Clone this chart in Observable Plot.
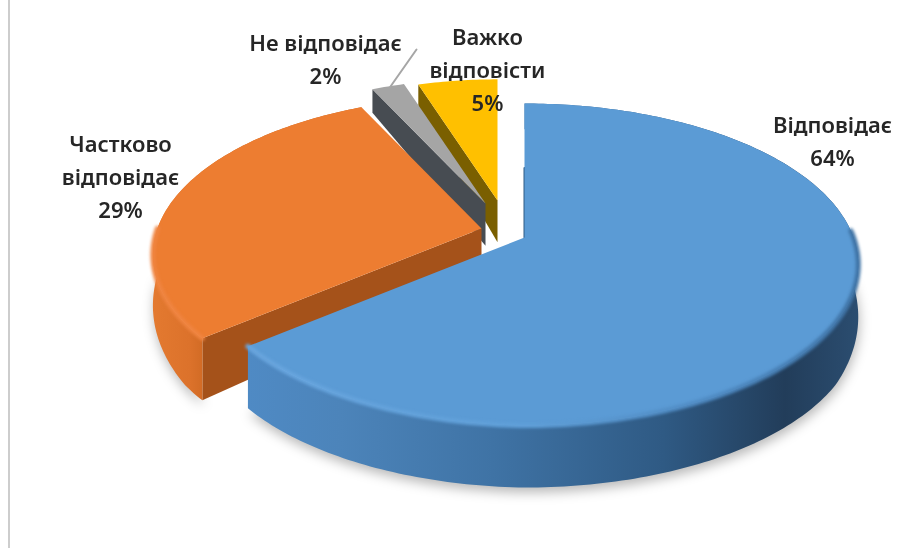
<!DOCTYPE html>
<html lang="uk">
<head>
<meta charset="utf-8">
<script src="https://cdn.jsdelivr.net/npm/d3@7"></script>
<script src="https://cdn.jsdelivr.net/npm/@observablehq/plot@0.6"></script>
<style>
html,body{margin:0;padding:0;background:#fff;}
svg{display:block;}
</style>
</head>
<body>
<div id="chart"></div>
<script>
// ---- data ----
const categories = ["Відповідає", "Частково\nвідповідає", "Не відповідає", "Важко\nвідповісти"];
const shares = [64, 29, 2, 5];

// ---- layout of the tilted pie (projection, not data) ----
const W = 898, H = 548;
const tilt = 0.168, rx = 329, ry = 156.5;
const apexX = [524, 481, 485, 497];
const apexY = [237, 228, 203, 200];
const reach = [1, 0.985, 0.92, 0.89];
const squeeze = [0.03, 0, 0, 0];
const labelX = [832, 120, 325, 487];
const labelY = [138, 174, 56, 67];
const leaderX = [390, 416];
const leaderY = [86, 49];
const topColor = ["#5b9bd5", "#ed7d31", "#a5a5a5", "#ffc000"];
const cutColor = ["#2f5a84", "#a5521a", "#474c52", "#7a5f00"];
const arcColor = ["url(#blueWall)", "url(#orangeWall)", "#474c52", "#7a5f00"];
const drawOrder = [3, 2, 1, 0];
const frontFrom = [0.38, 0];      // share of the slice's arc that is hidden at its start
const frontTo = [1, 0.38];        // share of the slice's arc where the front part ends

const total = d3.sum(shares);
const starts = d3.cumsum([0, ...shares]).map(v => v / total * 2 * Math.PI);

function project(i, a, k = 1) {
  const s = Math.sin(a);
  const r = reach[i] * k * (1 - squeeze[i] * Math.max(0, -s));
  const X = r * s, Y = r * Math.cos(a), w = 1 + tilt * Y;
  return {x: apexX[i] + rx * X / w, y: apexY[i] - ry * Y / w};
}
const drop = p => ({x: p.x, y: p.y + Math.min(62, 24 + (p.y - 92) * 0.165)});
function arc(i, a0, a1, k = 1) {
  const n = Math.max(2, Math.ceil((a1 - a0) * 60));
  return d3.range(n + 1).map(j => project(i, a0 + (a1 - a0) * j / n, k));
}
function frontArc(i, k = 1) {
  const a0 = starts[i], span = starts[i + 1] - a0;
  return arc(i, a0 + span * frontFrom[i], a0 + span * frontTo[i], k);
}

function blur(sd) {
  return (index, scales, values, dims, ctx, next) => {
    const g = next(index, scales, values, dims, ctx);
    g.style.filter = `blur(${sd}px)`;
    return g;
  };
}
const poly = (pts, fill, extra = {}) =>
  Plot.line(pts, {x: "x", y: "y", fill, stroke: "none", curve: "linear", ...extra});

function gradient(defs, id, x1, x2, stops) {
  const g = defs.append("linearGradient").attr("id", id)
    .attr("gradientUnits", "userSpaceOnUse")
    .attr("x1", x1).attr("x2", x2).attr("y1", 0).attr("y2", 0);
  stops.forEach(([o, c]) => g.append("stop").attr("offset", o).attr("stop-color", c));
}
const defsMark = () => {
  const svg = d3.create("svg:g");
  const defs = svg.append("defs");
  gradient(defs, "blueWall", 248, 858, [[0, "#4f8ac4"], [0.15, "#4c84ba"], [0.4, "#3f73a5"], [0.68, "#2f5a84"], [0.88, "#223d5a"], [1, "#2b4d70"]]);
  gradient(defs, "orangeWall", 150, 215, [[0, "#e47a30"], [0.6, "#dc722b"], [1, "#c9651f"]]);
  gradient(defs, "blueRim", 248, 858, [[0, "#68a5de"], [0.45, "#5f9fd8"], [0.75, "#4f8ac2"], [1, "#3f73a5"]]);
  return svg.node();
};

const marks = [defsMark];

// page edge rule seen at the left of the reference
marks.push(Plot.ruleX([8.5], {stroke: "#bdbdbd", strokeWidth: 1.5}));

// soft shadow below the front of the two large slices
[1, 0].forEach(i => {
  const under = frontArc(i).map(drop);
  marks.push(poly(under.map(p => ({x: p.x + 1, y: p.y + 5})), "#000", {fillOpacity: 0.28, render: blur(6)}));
});

// slices, back to front
drawOrder.forEach(i => {
  const a0 = starts[i], a1 = starts[i + 1];
  const outer = arc(i, a0, a1);
  const apex = project(i, 0, 0);
  const corner = project(i, a0);
  if (i !== 0) {
    marks.push(poly([apex, corner, drop(corner), drop(apex)], cutColor[i]));
  } else {
    marks.push(Plot.line([apex, project(i, 0, 0.48)], {x: "x", y: "y", stroke: cutColor[0], strokeWidth: 2}));
  }
  if (i < 2) {
    marks.push(poly([...outer, ...outer.map(drop).reverse()], arcColor[i]));
  }
  marks.push(poly([apex, ...outer], topColor[i]));
  if (i < 2) {
    marks.push(Plot.line(frontArc(i, 1), {
      x: "x", y: "y", stroke: i === 0 ? "url(#blueRim)" : "#ef8440",
      strokeWidth: 5, render: blur(1.5)
    }));
  }
});

// leader of the smallest slice
marks.push(Plot.line(leaderX.map((x, j) => ({x, y: leaderY[j]})), {
  x: "x", y: "y", stroke: "#a6a6a6", strokeWidth: 2
}));

// labels
const labels = categories.map((c, i) => ({text: `${c}\n${shares[i]}%`, x: labelX[i], y: labelY[i]}));
marks.push(Plot.text(labels, {
  x: "x", y: "y", text: "text", lineHeight: 1.5, fontSize: 22, fontWeight: 600,
  fontFamily: "'Noto Sans', sans-serif", fill: "#262626", textAnchor: "middle"
}));

const chart = Plot.plot({
  width: W, height: H,
  margin: 0,
  x: {domain: [0, W], range: [0, W], axis: null},
  y: {domain: [0, H], range: [0, H], axis: null},
  style: {background: "#fff", overflow: "visible", filter: "blur(0.4px)"},
  marks
});
document.getElementById("chart").append(chart);
</script>
</body>
</html>
